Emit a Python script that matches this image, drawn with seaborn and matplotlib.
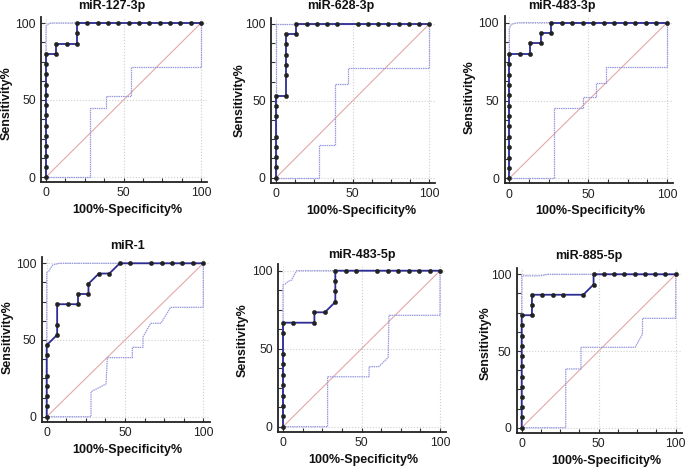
import matplotlib
matplotlib.use("Agg")
import matplotlib.pyplot as plt
from matplotlib.ticker import MultipleLocator, FixedLocator
import seaborn as sns

# ---------------- data ----------------
titles = ["miR-127-3p", "miR-628-3p", "miR-483-3p", "miR-1", "miR-483-5p", "miR-885-5p"]
x_label = "100%-Specificity%"
y_label = "Sensitivity%"
tick_values = [0, 50, 100]
diag_x = [0, 100]
diag_y = [0, 100]

# miR-127-3p
roc1_x = [0]*13 + [6.67, 6.67, 13.33, 20, 20, 20, 26.67, 33.33, 40, 46.67, 53.33, 60, 66.67, 73.33, 80, 86.67, 93.33, 100]
roc1_y = [0, 6.67, 13.33, 20, 26.67, 33.33, 40, 46.67, 53.33, 60, 66.67, 73.33, 80,
          80, 86.67, 86.67, 86.67, 93.33, 100, 100, 100, 100, 100, 100, 100, 100, 100, 100, 100, 100, 100]
up1_x = [0, 0, 1, 3, 100]
up1_y = [0, 98, 99, 100, 100]
lo1_x = [0, 28.5, 28.5, 38.7, 38.7, 54.8, 54.8, 100, 100]
lo1_y = [0, 0, 44.8, 44.8, 52.4, 52.4, 71.4, 71.4, 100]

# miR-628-3p
roc2_x = [0, 0, 0, 0, 0, 0, 0, 0, 6.67, 6.67, 6.67, 6.67, 6.67, 6.67, 13.33, 13.33,
          20, 26.67, 33.33, 40, 53.33, 60, 66.67, 73.33, 80, 86.67, 93.33, 100]
roc2_y = [0, 6.67, 13.33, 20, 26.67, 40, 46.67, 53.33, 53.33, 66.67, 73.33, 80, 86.67, 93.33, 93.33, 100,
          100, 100, 100, 100, 100, 100, 100, 100, 100, 100, 100, 100]
up2_x = [0, 0, 100]
up2_y = [0, 100, 100]
lo2_x = [0, 28.3, 28.3, 38.7, 38.7, 47, 47, 100, 100]
lo2_y = [0, 0, 21.3, 21.3, 61, 61, 71.5, 71.5, 100]

# miR-483-3p
roc3_x = [0]*13 + [6.67, 13.33, 13.33, 20, 20, 26.67, 26.67, 33.33, 40, 46.67, 53.33, 60, 66.67, 73.33, 80, 86.67, 93.33, 100]
roc3_y = [0, 6.67, 13.33, 20, 26.67, 33.33, 40, 46.67, 53.33, 60, 66.67, 73.33, 80,
          80, 80, 86.67, 86.67, 93.33, 93.33, 100, 100, 100, 100, 100, 100, 100, 100, 100, 100, 100, 100]
up3_x = [0, 0, 1, 3, 6, 100]
up3_y = [0, 96, 98.5, 99.5, 100, 100]
lo3_x = [0, 28.3, 28.3, 47, 47, 55.2, 55.2, 61.5, 61.5, 100, 100]
lo3_y = [0, 0, 45, 45, 52.5, 52.5, 61, 61, 71.3, 71.3, 100]

# miR-1
roc4_x = [0, 0, 0, 0, 0, 0, 0, 6.67, 6.67, 6.67, 13.33, 20, 20, 26.67, 26.67, 33.33, 40, 46.67,
          53.33, 66.67, 73.33, 80, 86.67, 93.33, 100]
roc4_y = [0, 6.67, 13.33, 20, 26.67, 40, 46.67, 53.33, 60, 73.33, 73.33, 73.33, 80, 80, 86.67, 93.33, 93.33, 100,
          100, 100, 100, 100, 100, 100, 100]
up4_x = [0, 0, 1.5, 2.5, 4, 8, 100]
up4_y = [0, 94, 95, 97, 99, 100, 100]
lo4_x = [0, 28.3, 28.3, 37.9, 38.7, 54.7, 54.7, 61.5, 61.5, 66.4, 73, 79.1, 100, 100]
lo4_y = [0, 0, 16.3, 21.3, 38.5, 38.5, 45.2, 45.2, 52, 60.9, 60.9, 71.3, 71.3, 100]

# miR-483-5p
roc5_x = [0, 0, 0, 0, 0, 0, 0, 0, 0, 0, 6.67, 20, 20, 26.67, 33.33, 33.33, 33.33, 33.33,
          40, 46.67, 60, 66.67, 73.33, 80, 86.67, 93.33, 100]
roc5_y = [0, 6.67, 13.33, 20, 26.67, 33.33, 40, 46.67, 60, 66.67, 66.67, 66.67, 73.33, 73.33, 80, 86.67, 93.33, 100,
          100, 100, 100, 100, 100, 100, 100, 100, 100]
up5_x = [0, 0, 1.5, 3, 5.5, 7, 8.7, 100]
up5_y = [0, 91, 91.5, 93, 94, 97, 100, 100]
lo5_x = [0, 28.4, 28.4, 54.8, 54.8, 61, 67, 67.5, 100, 100]
lo5_y = [0, 0, 32, 32, 38.5, 38.5, 44.4, 71.4, 71.4, 100]

# miR-885-5p
roc6_x = [0]*12 + [6.67, 6.67, 6.67, 13.33, 20, 26.67, 40, 46.67, 46.67, 53.33, 60, 66.67, 73.33, 80, 86.67, 93.33, 100]
roc6_y = [0, 6.67, 13.33, 20, 26.67, 33.33, 40, 46.67, 53.33, 60, 66.67, 73.33,
          73.33, 80, 86.67, 86.67, 86.67, 86.67, 86.67, 93.33, 100, 100, 100, 100, 100, 100, 100, 100, 100]
up6_x = [0, 0, 12, 17, 100]
up6_y = [0, 99, 99, 100, 100]
lo6_x = [0, 28.6, 28.6, 38.5, 38.5, 73.6, 78.4, 78.5, 100, 100]
lo6_y = [0, 0, 38.3, 38.3, 52.4, 52.4, 60.9, 71.3, 71.3, 100]

rocs = [(roc1_x, roc1_y), (roc2_x, roc2_y), (roc3_x, roc3_y), (roc4_x, roc4_y), (roc5_x, roc5_y), (roc6_x, roc6_y)]
uppers = [(up1_x, up1_y), (up2_x, up2_y), (up3_x, up3_y), (up4_x, up4_y), (up5_x, up5_y), (up6_x, up6_y)]
lowers = [(lo1_x, lo1_y), (lo2_x, lo2_y), (lo3_x, lo3_y), (lo4_x, lo4_y), (lo5_x, lo5_y), (lo6_x, lo6_y)]

# ---------------- layout (pixels) ----------------
W, H = 685, 467
# pixel positions of data 0 and 100 on each axis: (x0, x100, y0, y100)
frames = [
    (46.0, 201.0, 177.0, 23.0),
    (276.0, 429.3, 177.7, 24.0),
    (509.3, 667.0, 178.3, 22.7),
    (46.7, 203.3, 416.7, 263.3),
    (283.0, 440.0, 426.7, 270.7),
    (521.7, 675.7, 427.7, 274.3),
]
title_pos = [(112, 6), (341, 6), (562, 6), (127.5, 246), (362.3, 255), (588.7, 256)]
xlabel_pos = [(127, 210), (361, 211), (590.5, 211), (127, 450), (363.7, 460), (606.7, 461)]
ylabel_pos = [(7, 103), (240, 100), (470, 97), (8, 337), (243, 340), (485.7, 343)]
XMIN, XMAX = -3.0, 104.0
YMIN, YMAX = -3.2, 104.0

sns.set_theme(style="white")
plt.rcParams['font.family'] = ['Liberation Sans', 'DejaVu Sans']

fig = plt.figure(figsize=(W / 100, H / 100), dpi=100)
fig.patch.set_facecolor("white")

navy = "#2c2c94"
ci_col = "#9898e0"
diag_col = "#e4a8a8"
dot_col = "#222222"

for i in range(6):
    x0, x100, y0, y100 = frames[i]
    sx = (x100 - x0) / 100.0
    sy = (y0 - y100) / 100.0
    left = x0 + XMIN * sx
    right = x0 + XMAX * sx
    top = y0 - YMAX * sy
    bottom = y0 - YMIN * sy
    ax = fig.add_axes([left / W, 1 - bottom / H, (right - left) / W, (bottom - top) / H])
    ax.set_facecolor("white")

    sns.lineplot(x=diag_x, y=diag_y, sort=False, estimator=None, ax=ax,
                 color=diag_col, linewidth=0.8, zorder=2)
    ux, uy = uppers[i]
    lx, ly = lowers[i]
    sns.lineplot(x=ux, y=uy, sort=False, estimator=None, ax=ax,
                 color=ci_col, linewidth=0.9, linestyle=(0, (1.2, 0.6)), zorder=3)
    sns.lineplot(x=lx, y=ly, sort=False, estimator=None, ax=ax,
                 color=ci_col, linewidth=0.9, linestyle=(0, (1.2, 0.6)), zorder=3)
    rx, ry = rocs[i]
    sns.lineplot(x=rx, y=ry, sort=False, estimator=None, ax=ax,
                 color=navy, linewidth=1.3, marker="o", markersize=3.1,
                 markeredgewidth=0.3,
                 markerfacecolor=dot_col, markeredgecolor=dot_col, zorder=5)

    ax.set_xlim(XMIN, XMAX)
    ax.set_ylim(YMIN, YMAX)
    ax.xaxis.set_major_locator(FixedLocator(tick_values))
    ax.yaxis.set_major_locator(FixedLocator(tick_values))
    ax.xaxis.set_minor_locator(MultipleLocator(12.5))
    ax.yaxis.set_minor_locator(MultipleLocator(12.5))
    ax.set_xticklabels([str(t) for t in tick_values])
    ax.set_yticklabels([str(t) for t in tick_values])
    ax.tick_params(axis="both", which="major", direction="in", length=3, width=0.8,
                   labelsize=8.7, colors="#333333", labelcolor="#222222", pad=4,
                   bottom=True, left=True)
    ax.tick_params(axis="both", which="minor", direction="in", length=3, width=0.8,
                   colors="#333333", bottom=True, left=True)
    ax.grid(True, which="major", color="#cfcfcf", linestyle=":", linewidth=0.8, zorder=0)
    ax.set_axisbelow(True)
    for s in ["top", "right"]:
        ax.spines[s].set_visible(False)
    for s in ["left", "bottom"]:
        ax.spines[s].set_color("#222222")
        ax.spines[s].set_linewidth(1.3)
    ax.set_xlabel("")
    ax.set_ylabel("")

    tx, ty = title_pos[i]
    fig.text(tx / W, 1 - ty / H, titles[i], ha="center", va="center",
             fontsize=9, fontweight="bold", color="#111111")
    lx_, ly_ = xlabel_pos[i]
    fig.text(lx_ / W, 1 - ly_ / H, x_label, ha="center", va="center",
             fontsize=9, fontweight="bold", color="#111111")
    yx, yy = ylabel_pos[i]
    fig.text(yx / W, 1 - yy / H, y_label, ha="center", va="center", rotation=90,
             fontsize=9, fontweight="bold", color="#111111")

fig.savefig("out.png", dpi=100, facecolor="white")
